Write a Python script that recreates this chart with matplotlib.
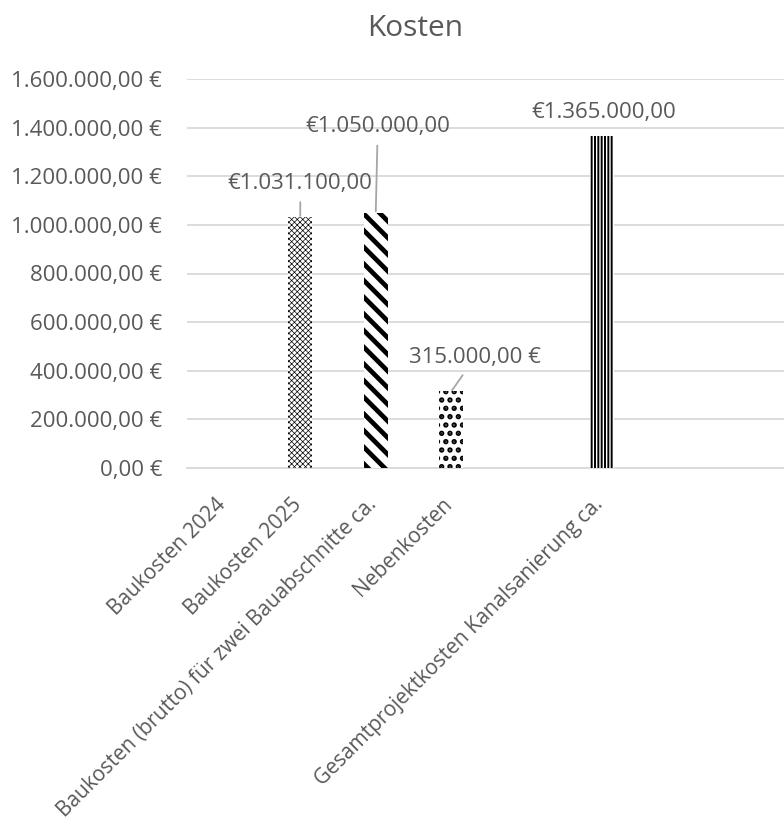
import matplotlib
matplotlib.use("Agg")
import matplotlib.pyplot as plt
import matplotlib.transforms as mtransforms
from matplotlib.ticker import FuncFormatter, MultipleLocator

# Data -------------------------------------------------------------------------
categories = [
    "Baukosten 2024",
    "Baukosten 2025",
    "Baukosten (brutto) für zwei Bauabschnitte ca.",
    "Nebenkosten",
    "",
    "Gesamtprojektkosten Kanalsanierung ca.",
    "",
    "",
]
values = [0, 1031100, 1050000, 315000, 0, 1365000, 0, 0]
# how the data label is written: "pre" -> €1.000,00 ; "suf" -> 1.000,00 € ; "" -> none
label_style = ["", "pre", "pre", "suf", "", "pre", "", ""]

# Styles -----------------------------------------------------------------------
hatches = ["", "xxxxxx", "\\\\", "..", "", "|||||", "", ""]
hatch_lw = [0.5, 0.5, 3.4, 2.6, 0.5, 1.4, 0.5, 0.5]
# label offsets (pixels from bar top) and whether a leader line is drawn
label_offsets = [None, (0, 34), (2, 86), (24, 34), None, (1, 24), None, None]
leader = [False, True, True, True, False, False, False, False]

TEXT = "#595959"
GRID = "#D9D9D9"
FS = 16
plt.rcParams["font.family"] = ["Open Sans", "DejaVu Sans"]


def de_num(v):
    s = f"{v:,.2f}"
    return s.replace(",", "X").replace(".", ",").replace("X", ".")


def fmt_label(v, style):
    if style == "pre":
        return "€" + de_num(v)
    return de_num(v) + " €"


fig = plt.figure(figsize=(7.84, 8.39), dpi=100)
ax = fig.add_axes([187 / 784, 1 - 468 / 839, 1 - 187 / 784, (468 - 79) / 839])

x = list(range(len(categories)))
bars = ax.bar(x, values, width=0.32, color="white", edgecolor="black",
              linewidth=0, zorder=3)
for bar, h, lw in zip(bars, hatches, hatch_lw):
    bar.set_hatch(h)
    if hasattr(bar, "set_hatch_linewidth"):
        bar.set_hatch_linewidth(lw)

ax.set_ylim(0, 1600000)
ax.set_xlim(-0.5, 7.407)
ax.yaxis.set_major_locator(MultipleLocator(200000))
ax.yaxis.set_major_formatter(FuncFormatter(lambda v, p: de_num(v) + " €"))
ax.grid(True, axis="y", color=GRID, linewidth=1.3, zorder=0)
ax.set_axisbelow(True)
for side in ["top", "right", "left"]:
    ax.spines[side].set_visible(False)
ax.spines["bottom"].set_color(GRID)
ax.spines["bottom"].set_linewidth(1.3)
ax.tick_params(axis="both", length=0, labelsize=FS, colors=TEXT)
ax.tick_params(axis="y", pad=18)

ax.set_xticks(x)
ax.set_xticklabels(categories, rotation=45, ha="right", va="center",
                   rotation_mode="anchor", fontsize=15)
ax.tick_params(axis="x", pad=24)
shift = mtransforms.ScaledTranslation(-2 / 100, 0, fig.dpi_scale_trans)
for lab in ax.get_xticklabels():
    lab.set_transform(lab.get_transform() + shift)

# data labels
for xi, v, style, off, ld in zip(x, values, label_style, label_offsets, leader):
    if not style:
        continue
    arrow = None
    if ld:
        arrow = dict(arrowstyle="-", color="#A6A6A6", lw=1.3,
                     shrinkA=4, shrinkB=1)
    ax.annotate(fmt_label(v, style), xy=(xi, v), xytext=off,
                textcoords="offset pixels", ha="center", va="center",
                fontsize=FS, color=TEXT, arrowprops=arrow, zorder=4)

fig.text(415 / 784, 1 - 28 / 839, "Kosten", ha="center", va="center",
         fontsize=21.5, color=TEXT)

fig.savefig("out.png", dpi=100)
